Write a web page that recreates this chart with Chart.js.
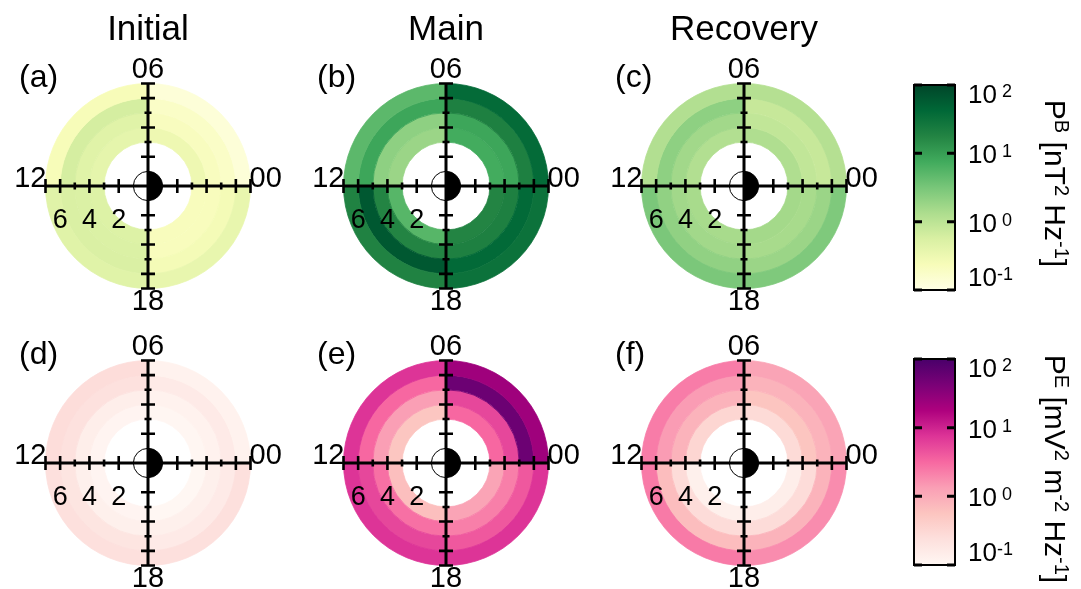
<!DOCTYPE html>
<html>
<head>
<meta charset="utf-8">
<script src="https://cdn.jsdelivr.net/npm/chart.js@4/dist/chart.umd.min.js"></script>
<style>
  html, body { margin: 0; padding: 0; background: #fff; }
  #fig { position: relative; width: 1081px; height: 589px; overflow: hidden; background: #fff; }
  #fig canvas { position: absolute; }
</style>
</head>
<body>
<div id="fig"></div>
<script>
// ---- Data -------------------------------------------------------------
// MLT sectors (hours) and their widths
const MLT_SECTORS = ['00-06', '06-12', '12-18', '18-24'];
const MLT_WIDTH = [6, 6, 6, 6];
// L-shell bin edges (rings), axis ticks and labelled ticks
const L_EDGES = [3, 4, 5, 6, 7];
const L_TICKS = [2, 3, 4, 5, 6, 7];
const L_LABELS = [2, 4, 6];
const MLT_LABELS = ['00', '06', '12', '18'];

const PHASES = ['Initial', 'Main', 'Recovery'];
const TAGS_B = ['(a)', '(b)', '(c)'];
const TAGS_E = ['(d)', '(e)', '(f)'];

// Magnetic wave power P^B [nT^2 Hz^-1]; rows = L bins (3-4 .. 6-7), columns = MLT sectors
const PB_INITIAL = [
  [0.31, 0.40, 0.50, 0.22],
  [0.21, 0.46, 0.53, 0.22],
  [0.18, 0.61, 0.55, 0.26],
  [0.13, 0.24, 0.46, 0.36]
];
const PB_MAIN = [
  [7.3, 1.8, 5.3, 18],
  [8.3, 2.2, 18, 20],
  [20, 8.3, 62, 40],
  [38, 4.9, 19, 31]
];
const PB_RECOVERY = [
  [1.25, 1.2, 1.45, 1.55],
  [0.9, 1.6, 1.6, 1.45],
  [0.8, 2.2, 2.1, 1.8],
  [1.15, 1.2, 3.0, 2.8]
];

// Electric wave power P^E [mV^2 m^-2 Hz^-1]
const PE_INITIAL = [
  [0.105, 0.11, 0.11, 0.10],
  [0.12, 0.14, 0.13, 0.13],
  [0.16, 0.23, 0.20, 0.16],
  [0.12, 0.26, 0.24, 0.24]
];
const PE_MAIN = [
  [3.2, 0.54, 0.65, 1.2],
  [5.5, 1.33, 2.8, 2.2],
  [54, 3.2, 5.5, 4.1],
  [23, 7.5, 7.5, 7.5]
];
const PE_RECOVERY = [
  [0.28, 0.33, 0.13, 0.14],
  [0.56, 0.85, 0.27, 0.27],
  [0.85, 1.4, 0.68, 0.85],
  [1.2, 2.3, 2.4, 1.8]
];

// Colour scale range and ticks
const CBAR_TICKS = [0.1, 1, 10, 100];
const CBAR_EXP = ['-1', ' 0', ' 1', ' 2'];

// ---- Colour maps (ColorBrewer YlGn / RdPu) -----------------------------
const YLGN = ['#ffffe5', '#f7fcb9', '#d9f0a3', '#addd8e', '#78c679', '#41ab5d', '#238443', '#006837', '#004529'];
const RDPU = ['#fff7f3', '#fde0dd', '#fcc5c0', '#fa9fb5', '#f768a1', '#dd3497', '#ae017e', '#7a0177', '#49006a'];

const FONT = '"Liberation Sans", Arial, Helvetica, sans-serif';

function hexToRgb(h) {
  return [parseInt(h.slice(1, 3), 16), parseInt(h.slice(3, 5), 16), parseInt(h.slice(5, 7), 16)];
}
function makeCmap(stops) {
  const rgb = stops.map(hexToRgb);
  const lo = Math.log10(CBAR_TICKS[0]);
  const hi = Math.log10(CBAR_TICKS[CBAR_TICKS.length - 1]);
  return v => {
    let t = (Math.log10(v) - lo) / (hi - lo);
    t = Math.min(1, Math.max(0, t));
    const p = t * (rgb.length - 1);
    const i = Math.min(Math.floor(p), rgb.length - 2);
    const f = p - i;
    const c = rgb[i].map((a, k) => Math.round(a + (rgb[i + 1][k] - a) * f));
    return 'rgb(' + c[0] + ',' + c[1] + ',' + c[2] + ')';
  };
}
const cmapB = makeCmap(YLGN);
const cmapE = makeCmap(RDPU);

// ---- Dial overlay: Earth, L axes, MLT and panel labels -----------------
const dialPlugin = {
  id: 'dial',
  afterDatasetsDraw(chart) {
    const o = chart.options.plugins.dial;
    const arc = chart.getDatasetMeta(0).data[0];
    const { x: cx, y: cy, outerRadius } = arc.getProps(['x', 'y', 'outerRadius'], true);
    const Lmax = L_EDGES[L_EDGES.length - 1];
    const s = outerRadius / Lmax;
    const ctx = chart.ctx;
    ctx.save();

    // Earth, night side (towards 00 MLT) shaded
    ctx.lineWidth = 1;
    ctx.strokeStyle = '#000';
    ctx.beginPath();
    ctx.arc(cx, cy, s, 0, 2 * Math.PI);
    ctx.fillStyle = '#fff';
    ctx.fill();
    ctx.stroke();
    ctx.beginPath();
    ctx.arc(cx, cy, s, -Math.PI / 2, Math.PI / 2);
    ctx.closePath();
    ctx.fillStyle = '#000';
    ctx.fill();

    // Cross axes with L ticks
    ctx.lineWidth = 3;
    ctx.lineCap = 'butt';
    ctx.beginPath();
    ctx.moveTo(cx - Lmax * s, cy); ctx.lineTo(cx + Lmax * s, cy);
    ctx.moveTo(cx, cy - Lmax * s); ctx.lineTo(cx, cy + Lmax * s);
    ctx.stroke();
    ctx.lineWidth = 2.6;
    ctx.beginPath();
    for (const L of L_TICKS) {
      const h = (L % 2 === 0 || L === Lmax) ? 7 : 3.5;
      for (const d of [-1, 1]) {
        ctx.moveTo(cx + d * L * s, cy - h); ctx.lineTo(cx + d * L * s, cy + h);
        ctx.moveTo(cx - h, cy + d * L * s); ctx.lineTo(cx + h, cy + d * L * s);
      }
    }
    ctx.stroke();

    // Labels
    ctx.fillStyle = '#000';
    ctx.textBaseline = 'alphabetic';
    ctx.font = '29px ' + FONT;
    ctx.textAlign = 'left';
    ctx.fillText(MLT_LABELS[0], cx + Lmax * s - 1, cy + 1);
    ctx.textAlign = 'center';
    ctx.fillText(MLT_LABELS[1], cx, cy - Lmax * s - 6);
    ctx.textAlign = 'right';
    ctx.fillText(MLT_LABELS[2], cx - Lmax * s + 1, cy + 1);
    ctx.textAlign = 'center';
    ctx.fillText(MLT_LABELS[3], cx, cy + Lmax * s + 21);

    ctx.font = '27px ' + FONT;
    for (const L of L_LABELS) ctx.fillText(String(L), cx - L * s, cy + 42);

    ctx.font = '32px ' + FONT;
    ctx.textAlign = 'left';
    ctx.fillText(o.tag, cx - 129, cy - 99);

    if (o.title) {
      ctx.font = '35px ' + FONT;
      ctx.textAlign = 'center';
      ctx.fillText(o.title, cx, cy - 146);
    }
    ctx.restore();
  }
};

const DIAL_R = 102.5;          // outer radius in px (L = 7)
const ORDER = [0, 3, 2, 1];    // clockwise from 06 MLT: 00-06, 18-24, 12-18, 06-12

function makeDial(cx, cy, values, cmap, tag, title) {
  const cv = document.createElement('canvas');
  const W = 296, H = 340;
  cv.width = W; cv.height = H;
  cv.style.left = (cx - W / 2) + 'px';
  cv.style.top = (cy - 186) + 'px';
  document.getElementById('fig').appendChild(cv);

  // doughnut rings: dataset 0 is the outermost ring
  const datasets = values.slice().reverse().map(row => {
    const cols = ORDER.map(i => cmap(row[i]));
    return {
      data: ORDER.map(i => MLT_WIDTH[i]),
      backgroundColor: cols,
      borderColor: cols,
      borderWidth: 0.8,
      hoverOffset: 0
    };
  });
  const Lmin = L_EDGES[0], Lmax = L_EDGES[L_EDGES.length - 1];

  new Chart(cv, {
    type: 'doughnut',
    data: { labels: ORDER.map(i => MLT_SECTORS[i]), datasets },
    options: {
      responsive: false,
      animation: false,
      events: [],
      devicePixelRatio: 1,
      radius: DIAL_R,
      cutout: (Lmin / Lmax * 100) + '%',
      rotation: 0,
      layout: { padding: { top: 38, bottom: H - 186 - 148, left: 0, right: 0 } },
      plugins: {
        legend: { display: false },
        tooltip: { enabled: false },
        dial: { tag, title }
      }
    },
    plugins: [dialPlugin]
  });
}

// ---- Colour bars --------------------------------------------------------
function drawRich(ctx, parts, size, supSize, raise) {
  let w = 0;
  const widths = parts.map(p => {
    ctx.font = (p.sup ? supSize : size) + 'px ' + FONT;
    const m = ctx.measureText(p.t).width;
    w += m;
    return m;
  });
  let x = -w / 2;
  parts.forEach((p, i) => {
    ctx.font = (p.sup ? supSize : size) + 'px ' + FONT;
    ctx.fillText(p.t, x, p.sup ? -raise : 0);
    x += widths[i];
  });
}

const cbarPlugin = {
  id: 'cbar',
  afterDatasetsDraw(chart) {
    const o = chart.options.plugins.cbar;
    const { left, right, top, bottom } = chart.chartArea;
    const ys = chart.scales.y;
    const ctx = chart.ctx;
    ctx.save();
    ctx.strokeStyle = '#000';
    ctx.lineWidth = 2;
    ctx.strokeRect(left, top, right - left, bottom - top);
    ctx.lineWidth = 3;
    ctx.beginPath();
    CBAR_TICKS.forEach(v => {
      const y = ys.getPixelForValue(v);
      ctx.moveTo(left, y); ctx.lineTo(left + 8, y);
      ctx.moveTo(right - 8, y); ctx.lineTo(right, y);
    });
    ctx.stroke();

    // tick labels 10^n
    ctx.fillStyle = '#000';
    ctx.textAlign = 'left';
    ctx.textBaseline = 'alphabetic';
    CBAR_TICKS.forEach((v, i) => {
      let yc = ys.getPixelForValue(v);
      yc = Math.max(top + 9, Math.min(bottom - 13, yc + 1));
      const base = yc + 9;
      ctx.font = '26px ' + FONT;
      ctx.fillText('10', right + 13, base);
      const w = ctx.measureText('10').width;
      ctx.font = '18px ' + FONT;
      ctx.fillText(CBAR_EXP[i], right + 13 + w, base - 6);
    });

    // rotated quantity label
    ctx.translate(o.titleX, (top + bottom) / 2 + o.titleDy);
    ctx.rotate(Math.PI / 2);
    ctx.textAlign = 'left';
    drawRich(ctx, o.title, 30, 20, 10);
    ctx.restore();
  }
};

function makeColorbar(left, top, W, H, barRect, stops, title, titleDy) {
  const cv = document.createElement('canvas');
  cv.width = W; cv.height = H;
  cv.style.left = left + 'px';
  cv.style.top = top + 'px';
  document.getElementById('fig').appendChild(cv);
  const n = stops.length - 1;
  new Chart(cv, {
    type: 'bar',
    data: {
      labels: ['P'],
      datasets: [{
        data: [[CBAR_TICKS[0], CBAR_TICKS[CBAR_TICKS.length - 1]]],
        backgroundColor: c => {
          const ch = c.chart;
          if (!ch.chartArea) return stops[0];
          const ys = ch.scales.y;
          const g = ch.ctx.createLinearGradient(0, ys.getPixelForValue(CBAR_TICKS[0]), 0, ys.getPixelForValue(CBAR_TICKS[CBAR_TICKS.length - 1]));
          stops.forEach((col, i) => g.addColorStop(i / n, col));
          return g;
        },
        borderWidth: 0,
        barPercentage: 1,
        categoryPercentage: 1
      }]
    },
    options: {
      responsive: false,
      animation: false,
      events: [],
      devicePixelRatio: 1,
      layout: { padding: { left: barRect[0] - left, right: left + W - barRect[1], top: barRect[2] - top, bottom: top + H - barRect[3] } },
      scales: {
        x: { display: false },
        y: { display: false, type: 'logarithmic', min: CBAR_TICKS[0], max: CBAR_TICKS[CBAR_TICKS.length - 1] }
      },
      plugins: {
        legend: { display: false },
        tooltip: { enabled: false },
        cbar: { title, titleX: 165, titleDy }
      }
    },
    plugins: [cbarPlugin]
  });
}

// ---- Figure ------------------------------------------------------------
const CX = [148, 446, 744];
const CY = [186, 463];
const PB = [PB_INITIAL, PB_MAIN, PB_RECOVERY];
const PE = [PE_INITIAL, PE_MAIN, PE_RECOVERY];
for (let j = 0; j < 3; j++) {
  makeDial(CX[j], CY[0], PB[j], cmapB, TAGS_B[j], PHASES[j]);
  makeDial(CX[j], CY[1], PE[j], cmapE, TAGS_E[j], null);
}

makeColorbar(880, 60, 201, 250, [914, 955, 85, 290], YLGN, [
  { t: 'P' }, { t: 'B', sup: true }, { t: ' [nT' }, { t: '2', sup: true },
  { t: ' Hz' }, { t: '-1', sup: true }, { t: ']' }
], -4);
makeColorbar(880, 330, 201, 259, [914, 955, 359, 565], RDPU, [
  { t: 'P' }, { t: 'E', sup: true }, { t: ' [mV' }, { t: '2', sup: true },
  { t: ' m' }, { t: '-2', sup: true }, { t: ' Hz' }, { t: '-1', sup: true }, { t: ']' }
], 7);
</script>
</body>
</html>
